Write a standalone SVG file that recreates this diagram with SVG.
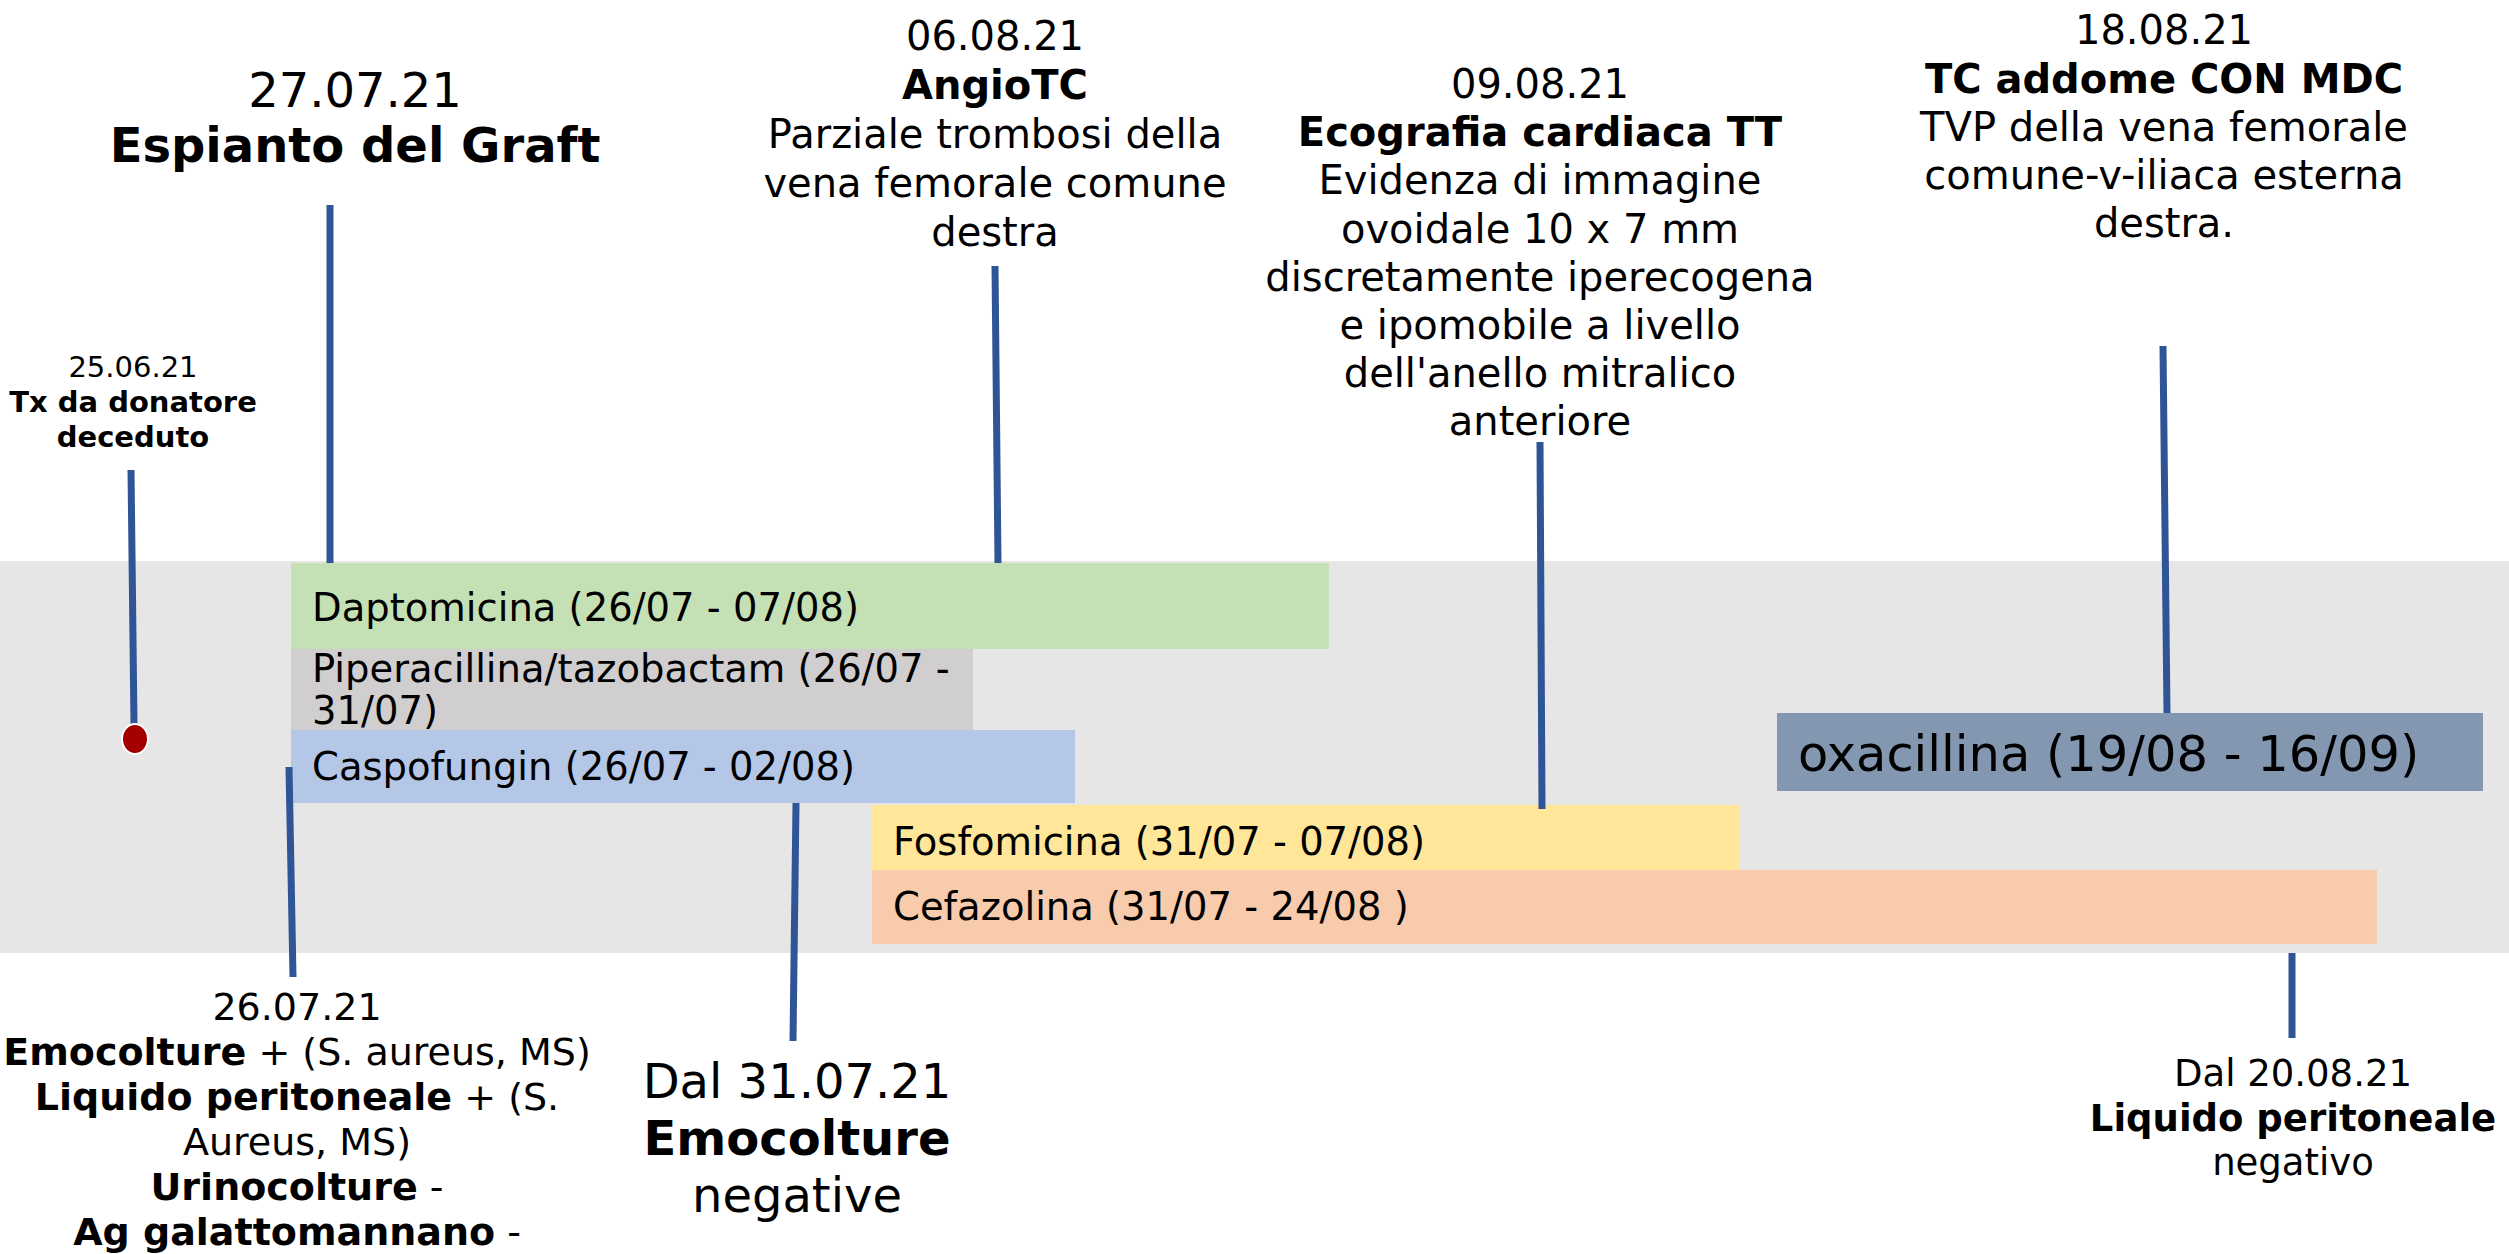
<svg xmlns="http://www.w3.org/2000/svg" width="2509" height="1254" viewBox="0 0 2509 1254">
<style>
text{font-family:"DejaVu Sans",Verdana,sans-serif;fill:#000}
.c{text-anchor:middle}
.b{font-weight:bold}
.bar{font-size:38.5px}
.conn line{stroke:#2f5597;stroke-width:7;stroke-linecap:butt}
</style>
<rect id="band" x="0" y="561" width="2509" height="392" fill="#e6e6e6"/>
<g id="bar-dapto"><rect x="291" y="563" width="1038" height="86" fill="#c5e0b4"/><text class="bar" x="312" y="621">Daptomicina (26/07 - 07/08)</text></g>
<g id="bar-pip"><rect x="291" y="649" width="682" height="81" fill="#d0cece"/><text class="bar" x="312" y="682">Piperacillina/tazobactam (26/07 -</text><text class="bar" x="312" y="724">31/07)</text></g>
<g id="bar-casp"><rect x="291" y="730" width="784" height="73" fill="#b4c7e7"/><text class="bar" x="312" y="780">Caspofungin (26/07 - 02/08)</text></g>
<g id="bar-fosfo"><rect x="872" y="805" width="868" height="65" fill="#ffe699"/><text class="bar" x="893" y="855">Fosfomicina (31/07 - 07/08)</text></g>
<g id="bar-cef"><rect x="872" y="870" width="1505" height="74" fill="#f8cbad"/><text class="bar" x="893" y="920">Cefazolina (31/07 - 24/08 )</text></g>
<g id="bar-oxa"><rect x="1777" y="713" width="706" height="78" fill="#8497b0"/><text x="1798" y="771" style="font-size:49.5px">oxacillina (19/08 - 16/09)</text></g>
<g class="conn" id="connectors">
<line x1="131" y1="470" x2="134" y2="724"/>
<line x1="330" y1="205" x2="330" y2="563"/>
<line x1="995" y1="266" x2="998" y2="563"/>
<line x1="1540" y1="442" x2="1542" y2="809"/>
<line x1="2163" y1="346" x2="2167" y2="713"/>
<line x1="289" y1="767" x2="293" y2="977"/>
<line x1="796" y1="803" x2="793" y2="1041"/>
<line x1="2292" y1="953" x2="2292" y2="1038"/>
</g>
<g id="tx">
<ellipse cx="135" cy="739" rx="13" ry="15" fill="#a50000" stroke="#fff" stroke-width="2"/>
<text class="c" x="133" y="377" style="font-size:29px">25.06.21</text>
<text class="c b" x="133" y="412" style="font-size:29px">Tx da donatore</text>
<text class="c b" x="133" y="447" style="font-size:29px">deceduto</text>
</g>
<g id="espianto">
<text class="c" x="355" y="107" style="font-size:48px">27.07.21</text>
<text class="c b" x="355" y="162" style="font-size:48px">Espianto del Graft</text>
</g>
<g id="angiotc" style="font-size:40px">
<text class="c" x="995" y="50">06.08.21</text>
<text class="c b" x="995" y="99">AngioTC</text>
<text class="c" x="995" y="148">Parziale trombosi della</text>
<text class="c" x="995" y="197">vena femorale comune</text>
<text class="c" x="995" y="246">destra</text>
</g>
<g id="ecografia" style="font-size:40px">
<text class="c" x="1540" y="98">09.08.21</text>
<text class="c b" x="1540" y="146">Ecografia cardiaca TT</text>
<text class="c" x="1540" y="194">Evidenza di immagine</text>
<text class="c" x="1540" y="243">ovoidale 10 x 7 mm</text>
<text class="c" x="1540" y="291">discretamente iperecogena</text>
<text class="c" x="1540" y="339">e ipomobile a livello</text>
<text class="c" x="1540" y="387">dell'anello mitralico</text>
<text class="c" x="1540" y="435">anteriore</text>
</g>
<g id="tc-addome" style="font-size:40px">
<text class="c" x="2164" y="44">18.08.21</text>
<text class="c b" x="2164" y="93">TC addome CON MDC</text>
<text class="c" x="2164" y="141">TVP della vena femorale</text>
<text class="c" x="2164" y="189">comune-v-iliaca esterna</text>
<text class="c" x="2164" y="237">destra.</text>
</g>
<g id="colture-2607" style="font-size:38px">
<text class="c" x="297" y="1020">26.07.21</text>
<text class="c" x="297" y="1065"><tspan class="b">Emocolture</tspan> + (S. aureus, MS)</text>
<text class="c" x="297" y="1110"><tspan class="b">Liquido peritoneale</tspan> + (S.</text>
<text class="c" x="297" y="1155">Aureus, MS)</text>
<text class="c" x="297" y="1200"><tspan class="b">Urinocolture</tspan> -</text>
<text class="c" x="297" y="1245"><tspan class="b">Ag galattomannano</tspan> -</text>
</g>
<g id="emocolture-3107" style="font-size:48px">
<text class="c" x="797" y="1098">Dal 31.07.21</text>
<text class="c b" x="797" y="1155">Emocolture</text>
<text class="c" x="797" y="1212">negative</text>
</g>
<g id="liquido-2008" style="font-size:37px">
<text class="c" x="2293" y="1086">Dal 20.08.21</text>
<text class="c b" x="2293" y="1131">Liquido peritoneale</text>
<text class="c" x="2293" y="1175">negativo</text>
</g>
</svg>
